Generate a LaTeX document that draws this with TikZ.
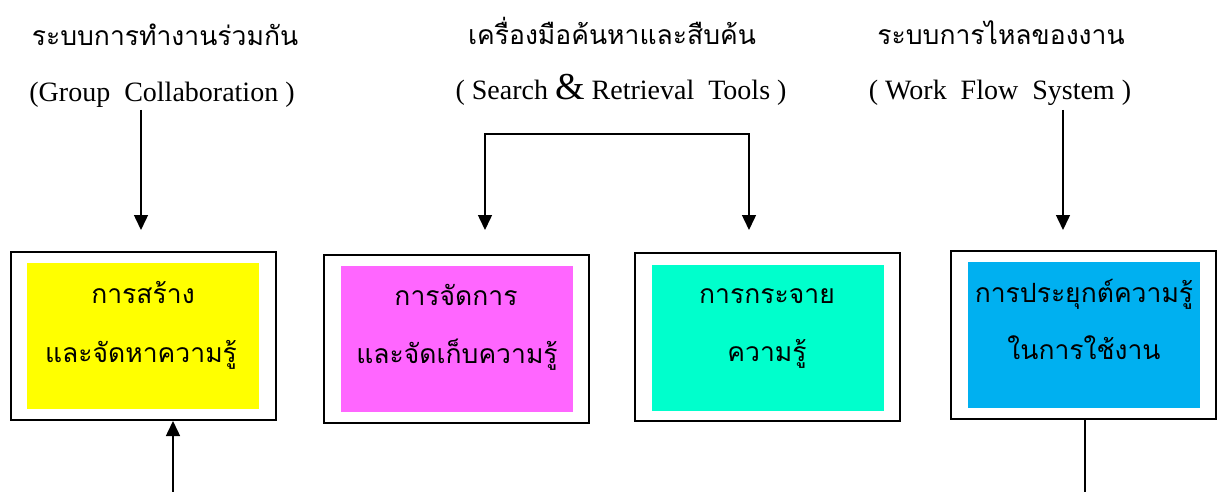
\documentclass[tikz,border=0pt]{standalone}
\usepackage{fontspec}
\setmainfont{Liberation Serif}
\newfontfamily\thaifont[Script=Thai]{Loma}
\usetikzlibrary{arrows.meta,calc}
\definecolor{cyel}{HTML}{FFFF00}
\definecolor{cmag}{HTML}{FF66FF}
\definecolor{ccya}{HTML}{00FFCC}
\definecolor{cblu}{HTML}{00B0F0}
\begin{document}
\begin{tikzpicture}[x=1pt,y=-1pt,
  outerbox/.style={draw=black,line width=2pt,minimum width=265pt,minimum height=168pt,inner sep=0pt},
  fillbox/.style={minimum width=232pt,minimum height=146pt,inner sep=0pt},
  thtxt/.style={inner sep=0pt,anchor=base,font=\thaifont\fontsize{26.5}{26.5}\selectfont},
  latxt/.style={inner sep=0pt,anchor=base,font=\fontsize{28}{28}\selectfont},
  arr/.style={line width=1.5pt,-{Triangle[length=15pt,width=14pt]}},
  ln/.style={line width=1.5pt}]
\useasboundingbox (0,0) rectangle (1221,492);
% titles
\node[thtxt] (t1a) at (165,46) {ระบบการทำงานร่วมกัน};
\node[latxt] (t1b) at (162,102) {(Group~~Collaboration~)};
\node[thtxt] (t2a) at (612,45) {เครื่องมือค้นหาและสืบค้น};
\node[latxt] (t2b) at (621,100) {(~Search {\fontsize{38}{38}\selectfont\&} Retrieval~~Tools~)};
\node[thtxt] (t3a) at (1001,45) {ระบบการไหลของงาน};
\node[latxt] (t3b) at (1000,100) {(~Work~~Flow~~System~)};
% boxes
\node[outerbox] (b1) at (143,336) {};
\node[fillbox,fill=cyel] (f1) at (143,336) {};
\node[outerbox] (b2) at (456.5,338.5) {};
\node[fillbox,fill=cmag] (f2) at (457,338.5) {};
\node[outerbox] (b3) at (767.5,337) {};
\node[fillbox,fill=ccya] (f3) at (768,337.5) {};
\node[outerbox] (b4) at (1083.5,335) {};
\node[fillbox,fill=cblu] (f4) at (1084,335) {};
% box texts
\node[thtxt] (x1a) at (143,303) {การสร้าง};
\node[thtxt] (x1b) at (141,362) {และจัดหาความรู้};
\node[thtxt] (x2a) at (456,305) {การจัดการ};
\node[thtxt] (x2b) at (457,363) {และจัดเก็บความรู้};
\node[thtxt] (x3a) at (767,303) {การกระจาย};
\node[thtxt] (x3b) at (767,361) {ความรู้};
\node[thtxt] (x4a) at (1084,302) {การประยุกต์ความรู้};
\node[thtxt] (x4b) at (1084,359) {ในการใช้งาน};
% connectors
\coordinate (s1) at (141,110);
\coordinate (e1) at (141,230);
\draw[arr] (s1) -- (e1);
\coordinate (bl) at (485,134);
\coordinate (br) at (749,134);
\coordinate (e2) at (485,230);
\coordinate (e3) at (749,230);
\draw[arr] (bl) -- (e2);
\draw[arr] (br) -- (e3);
\draw[ln,line cap=rect] (bl) -- (br);
\coordinate (s4) at (1063,110);
\coordinate (e4) at (1063,230);
\draw[arr] (s4) -- (e4);
\coordinate (u1) at (173,492);
\draw[arr] (u1) -- (b1.south -| u1);
\coordinate (u4) at (1085,492);
\draw[ln] (b4.south -| u4) -- (u4);
\end{tikzpicture}
\end{document}
